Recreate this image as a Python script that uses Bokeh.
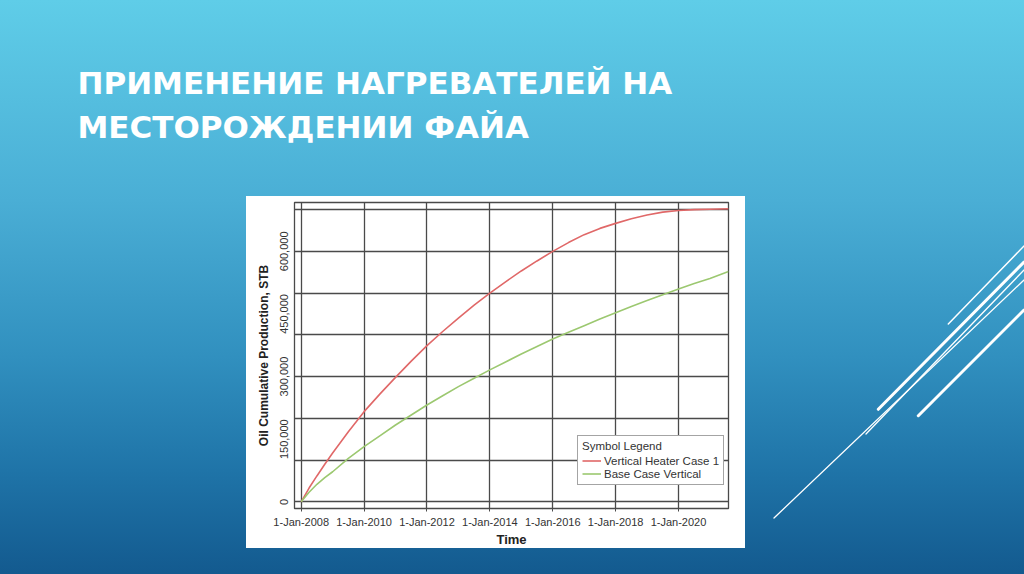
from urllib.parse import quote
from bokeh.plotting import figure
from bokeh.models import Range1d, FixedTicker, Legend, LegendItem, Title
from bokeh.embed import file_html
from bokeh.resources import INLINE

# ---------------- data ----------------
years = [2008.0, 2008.25, 2008.5, 2008.75, 2009.0, 2009.5, 2010.0, 2010.5,
         2011.0, 2011.5, 2012.0, 2012.5, 2013.0, 2013.5, 2014.0, 2014.5,
         2015.0, 2015.5, 2016.0, 2016.5, 2017.0, 2017.5, 2018.0, 2018.5,
         2019.0, 2019.5, 2020.0, 2020.5, 2021.0, 2021.59]
heater_case = [0, 33000, 62000, 90000, 117000, 168000, 216000, 258000,
               298000, 337000, 374000, 408000, 440000, 471000, 500000, 527000,
               553000, 577000, 600000, 621000, 640000, 655000, 667000, 678000,
               687000, 694000, 698000, 700000, 701000, 702000]
base_case = [0, 23000, 42000, 58000, 72000, 104000, 132000, 158000,
             184000, 208000, 232000, 254000, 276000, 296000, 316000, 335000,
             354000, 372000, 390000, 406000, 422000, 438000, 453000, 468000,
             482000, 496000, 510000, 523000, 535000, 552000]

x_tick_years = [2008, 2010, 2012, 2014, 2016, 2018, 2020]
x_tick_labels = ["1-Jan-2008", "1-Jan-2010", "1-Jan-2012", "1-Jan-2014",
                 "1-Jan-2016", "1-Jan-2018", "1-Jan-2020"]
y_tick_values = [0, 150000, 300000, 450000, 600000]
y_tick_labels = ["0", "150,000", "300,000", "450,000", "600,000"]
y_grid_values = [0, 100000, 200000, 300000, 400000, 500000, 600000, 700000]

series_names = ["Vertical Heater Case 1", "Base Case Vertical"]
title_lines = ["ПРИМЕНЕНИЕ НАГРЕВАТЕЛЕЙ НА", "МЕСТОРОЖДЕНИИ ФАЙА"]

# ---------------- slide decoration (CSS background) ----------------
W, H = 1024, 574
deco_lines = [  # x0, y0, x1, y1, width  (canvas pixels, y downwards)
    (948.3, 324.0, 1024, 246.0, 1.5),
    (878.3, 409.3, 1024, 262.0, 3.0),
    (866.0, 434.0, 1024, 270.0, 1.3),
    (774.0, 518.0, 1024, 280.0, 1.3),
    (918.3, 415.7, 1024, 310.0, 3.0),
]
svg = "<svg xmlns='http://www.w3.org/2000/svg' width='%d' height='%d'>" % (W, H)
for x0, y0, x1, y1, lw in deco_lines:
    svg += ("<line x1='%.1f' y1='%.1f' x2='%.1f' y2='%.1f' stroke='white' "
            "stroke-width='%.1f' stroke-linecap='round'/>" % (x0, y0, x1, y1, lw))
svg += "</svg>"
background = ", ".join([
    'url("data:image/svg+xml;charset=utf-8,%s") 0 0 / %dpx %dpx no-repeat' % (quote(svg), W, H),
    "linear-gradient(white, white) 246px 196px / 499px 352px no-repeat",
    "linear-gradient(180deg, #5fcde8 0%, #4aaed5 35%, #3190bf 62%, #1f74a8 82%, #135a8f 100%)",
])

# ---------------- figure ----------------
p = figure(width=W, height=H, output_backend="svg", toolbar_location=None,
           x_range=Range1d(2007.787, 2021.59), y_range=Range1d(-16000, 717000),
           min_border_left=294, min_border_right=296, min_border_top=202,
           min_border_bottom=66)
p.title = None
p.styles = {"background": background}
p.border_fill_color = None
p.background_fill_color = "white"
p.outline_line_color = "#4a4a4a"
p.outline_line_width = 1.3

# axes
xa = p.xaxis[0]
xa.ticker = FixedTicker(ticks=x_tick_years)
xa.major_label_overrides = {t: l for t, l in zip(x_tick_years, x_tick_labels)}
xa.axis_label = "Time"
ya = p.yaxis[0]
ya.ticker = FixedTicker(ticks=y_tick_values)
ya.major_label_overrides = {t: l for t, l in zip(y_tick_values, y_tick_labels)}
ya.major_label_orientation = "vertical"
ya.axis_label = "Oil Cumulative Production, STB"
for ax in (xa, ya):
    ax.major_label_text_font = "Liberation Sans"
    ax.major_label_text_font_size = "11px"
    ax.major_label_text_color = "#333333"
    ax.axis_label_text_font = "Liberation Sans"
    ax.axis_label_text_font_style = "bold"
    ax.axis_label_text_color = "#222222"
    ax.axis_line_color = "#4a4a4a"
    ax.major_tick_line_color = "#4a4a4a"
    ax.minor_tick_line_color = None
    ax.major_tick_in = 0
xa.major_tick_out = 3
xa.major_label_standoff = 4
xa.axis_label_text_font_size = "13px"
xa.axis_label_standoff = 1
ya.major_tick_out = 0
ya.major_label_standoff = 6
ya.axis_label_text_font_size = "12px"
ya.axis_label_standoff = 7

p.xgrid.ticker = FixedTicker(ticks=x_tick_years)
p.ygrid.ticker = FixedTicker(ticks=y_grid_values)
for g in (p.xgrid, p.ygrid):
    g.grid_line_color = "#4a4a4a"
    g.grid_line_width = 1.3

# series
r1 = p.line(years, heater_case, line_color="#e06868", line_width=1.6)
r2 = p.line(years, base_case, line_color="#9cc870", line_width=1.6)

legend = Legend(items=[LegendItem(label=series_names[0], renderers=[r1]),
                       LegendItem(label=series_names[1], renderers=[r2])],
                location=(283, 23), title="Symbol Legend",
                title_text_font="Liberation Sans", title_text_font_size="11.5px",
                title_text_font_style="normal", title_text_color="#333333",
                label_text_font="Liberation Sans", label_text_font_size="11.5px",
                label_text_color="#333333", border_line_color="#4a4a4a",
                border_line_width=1, background_fill_color="white",
                background_fill_alpha=1.0, padding=4, spacing=0,
                label_height=13, glyph_height=13, glyph_width=19,
                label_standoff=3, margin=0, title_standoff=2)
p.add_layout(legend)

# slide title (two lines above the chart)
p.add_layout(Title(text="\n".join(title_lines), align="left", offset=-217,
                   standoff=115, text_line_height=1.22,
                   text_font="DejaVu Sans", text_font_style="bold",
                   text_font_size="31px", text_color="white"), "above")

open("out.html", "w").write(file_html(p, INLINE))
